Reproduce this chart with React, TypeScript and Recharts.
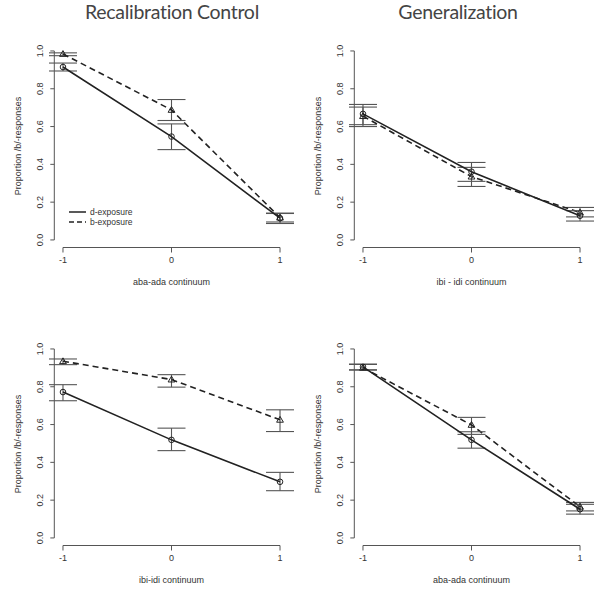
import { LineChart, Line, XAxis, YAxis, ErrorBar, ReferenceLine, Legend } from 'recharts';

const levels = [-1, 0, 1];
const yTicks = [0, 0.2, 0.4, 0.6, 0.8, 1.0];
const seriesNames = ['d-exposure', 'b-exposure'];

// Recalibration Control, aba-ada
const rcAbaD = [0.915, 0.547, 0.115];
const rcAbaDLo = [0.894, 0.478, 0.087];
const rcAbaDHi = [0.936, 0.614, 0.142];
const rcAbaB = [0.984, 0.688, 0.118];
const rcAbaBLo = [0.975, 0.632, 0.095];
const rcAbaBHi = [0.99, 0.743, 0.14];

// Generalization, ibi-idi
const genIbiD = [0.667, 0.361, 0.128];
const genIbiDLo = [0.61, 0.31, 0.1];
const genIbiDHi = [0.717, 0.41, 0.155];
const genIbiB = [0.655, 0.335, 0.145];
const genIbiBLo = [0.6, 0.283, 0.122];
const genIbiBHi = [0.703, 0.384, 0.172];

// Recalibration Control, ibi-idi
const rcIbiD = [0.772, 0.519, 0.297];
const rcIbiDLo = [0.726, 0.462, 0.25];
const rcIbiDHi = [0.811, 0.581, 0.347];
const rcIbiB = [0.935, 0.838, 0.625];
const rcIbiBLo = [0.917, 0.798, 0.563];
const rcIbiBHi = [0.947, 0.864, 0.678];

// Generalization, aba-ada
const genAbaD = [0.905, 0.519, 0.152];
const genAbaDLo = [0.89, 0.475, 0.126];
const genAbaDHi = [0.92, 0.562, 0.178];
const genAbaB = [0.9, 0.598, 0.165];
const genAbaBLo = [0.888, 0.548, 0.143];
const genAbaBHi = [0.918, 0.638, 0.188];

const FONT = '"Liberation Sans", Arial, Helvetica, sans-serif';
const INK = '#222';
const GREY = '#555';

const buildRows = (
  d: number[], dLo: number[], dHi: number[],
  b: number[], bLo: number[], bHi: number[]
) =>
  levels.map((x, i) => ({
    x,
    d: d[i],
    dErr: [d[i] - dLo[i], dHi[i] - d[i]],
    b: b[i],
    bErr: [b[i] - bLo[i], bHi[i] - b[i]],
  }));

const CircleDot = (props: any) => {
  const { cx, cy, index } = props;
  if (cx == null || cy == null) return <g key={`c${index}`} />;
  return <circle key={`c${index}`} cx={cx} cy={cy} r={2.8} fill="none" stroke={INK} strokeWidth={1} />;
};

const TriangleDot = (props: any) => {
  const { cx, cy, index } = props;
  if (cx == null || cy == null) return <g key={`t${index}`} />;
  const s = 3.4;
  return (
    <path
      key={`t${index}`}
      d={`M${cx},${cy - s} L${cx + s},${cy + s * 0.7} L${cx - s},${cy + s * 0.7} Z`}
      fill="none"
      stroke={INK}
      strokeWidth={1}
    />
  );
};

const YTick = (props: any) => {
  const { x, y, payload } = props;
  const bx = x - 3;
  return (
    <text
      x={bx}
      y={y}
      transform={`rotate(-90 ${bx} ${y})`}
      textAnchor="middle"
      fontSize={9}
      fontFamily={FONT}
      fill="#333"
    >
      {Number(payload.value).toFixed(1)}
    </text>
  );
};

const LegendBox = () => (
  <div style={{ fontFamily: FONT, fontSize: 8.5, color: '#333', lineHeight: '10px' }}>
    {seriesNames.map((name, i) => (
      <div key={name} style={{ display: 'flex', alignItems: 'center' }}>
        <svg width={20} height={10}>
          <line x1={1} x2={18} y1={5} y2={5} stroke={INK} strokeWidth={1.5} strokeDasharray={i === 1 ? '5 3' : undefined} />
        </svg>
        <span style={{ marginLeft: 2 }}>{name}</span>
      </div>
    ))}
  </div>
);

interface PanelProps {
  rows: ReturnType<typeof buildRows>;
  xTitle: string;
  title?: string;
  titleCenter?: number;
  legend?: boolean;
  height: number;
}

const Panel = ({ rows, xTitle, title, titleCenter, legend, height }: PanelProps) => (
  <div style={{ position: 'relative', width: 300, height }}>
    {title && (
      <div
        style={{
          position: 'absolute',
          top: 0,
          left: (titleCenter ?? 172) - 120,
          width: 240,
          textAlign: 'center',
          fontFamily: 'Lato, "Open Sans", sans-serif',
          fontSize: 19.5,
          color: '#444',
          letterSpacing: -0.3,
        }}
      >
        {title}
      </div>
    )}
    <LineChart width={300} height={296} data={rows} margin={{ top: 43.4, right: 11.3, bottom: 18.5, left: 0.3 }}>
      <XAxis
        type="number"
        dataKey="x"
        domain={[-1.08, 1.08]}
        ticks={levels}
        allowDataOverflow
        axisLine={false}
        tickLine={{ stroke: GREY }}
        tickSize={5}
        tickMargin={4}
        height={30}
        tick={{ fontSize: 9, fontFamily: FONT, fill: '#333' }}
        tickFormatter={(v: number) => String(v)}
      />
      <YAxis
        type="number"
        domain={[-0.04, 1.04]}
        ticks={yTicks}
        allowDataOverflow
        axisLine={false}
        tickLine={{ stroke: GREY }}
        tickSize={4}
        tickMargin={4}
        width={54}
        tick={<YTick />}
      />
      <ReferenceLine segment={[{ x: -1.08, y: 0 }, { x: -1.08, y: 1 }]} stroke={GREY} strokeWidth={1} ifOverflow="visible" />
      <ReferenceLine segment={[{ x: -1, y: -0.04 }, { x: 1, y: -0.04 }]} stroke={GREY} strokeWidth={1} ifOverflow="visible" />
      <Line
        dataKey="b"
        stroke={INK}
        strokeWidth={1.6}
        strokeDasharray="6 4"
        dot={TriangleDot}
        activeDot={false}
        isAnimationActive={false}
      >
        <ErrorBar dataKey="bErr" direction="y" width={14} stroke={GREY} strokeWidth={1.1} />
      </Line>
      <Line
        dataKey="d"
        stroke={INK}
        strokeWidth={1.6}
        dot={CircleDot}
        activeDot={false}
        isAnimationActive={false}
      >
        <ErrorBar dataKey="dErr" direction="y" width={14} stroke={GREY} strokeWidth={1.1} />
      </Line>
      {legend && (
        <Legend
          content={LegendBox}
          layout="vertical"
          align="center"
          verticalAlign="middle"
          wrapperStyle={{ position: 'absolute', left: 68, top: 207, width: 'auto' }}
        />
      )}
    </LineChart>
    <div
      style={{
        position: 'absolute',
        top: 277,
        left: 71.5,
        width: 200,
        textAlign: 'center',
        fontFamily: FONT,
        fontSize: 9,
        color: '#333',
      }}
    >
      {xTitle}
    </div>
    <div
      style={{
        position: 'absolute',
        top: 145.5,
        left: 18,
        width: 0,
        height: 0,
      }}
    >
      <div
        style={{
          position: 'absolute',
          transform: 'translate(-50%, -50%) rotate(-90deg)',
          whiteSpace: 'nowrap',
          fontFamily: FONT,
          fontSize: 9,
          color: '#333',
        }}
      >
        Proportion /b/-responses
      </div>
    </div>
  </div>
);

export default function App() {
  return (
    <div style={{ width: 600, height: 594, background: '#fff', display: 'grid', gridTemplateColumns: '300px 300px' }}>
      <style>{`body{margin:0}`}</style>
      <Panel
        rows={buildRows(rcAbaD, rcAbaDLo, rcAbaDHi, rcAbaB, rcAbaBLo, rcAbaBHi)}
        xTitle="aba-ada continuum"
        title="Recalibration Control"
        titleCenter={172}
        legend
        height={298}
      />
      <Panel
        rows={buildRows(genIbiD, genIbiDLo, genIbiDHi, genIbiB, genIbiBLo, genIbiBHi)}
        xTitle="ibi - idi continuum"
        title="Generalization"
        titleCenter={158}
        height={298}
      />
      <Panel
        rows={buildRows(rcIbiD, rcIbiDLo, rcIbiDHi, rcIbiB, rcIbiBLo, rcIbiBHi)}
        xTitle="ibi-idi continuum"
        height={296}
      />
      <Panel
        rows={buildRows(genAbaD, genAbaDLo, genAbaDHi, genAbaB, genAbaBLo, genAbaBHi)}
        xTitle="aba-ada continuum"
        height={296}
      />
    </div>
  );
}
